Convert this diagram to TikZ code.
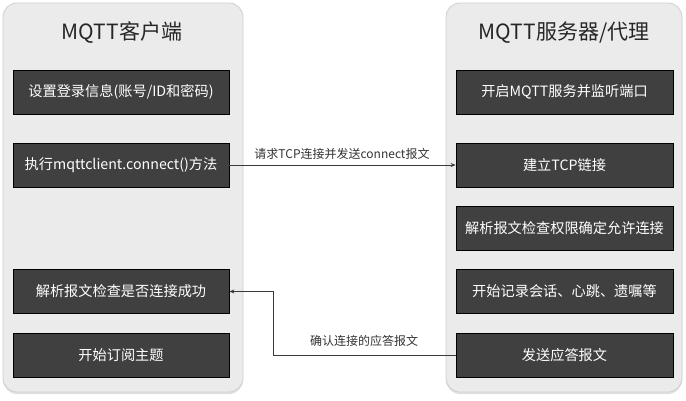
\documentclass[tikz,border=0pt]{standalone}
\usepackage{fontspec}
\setmainfont{Noto Sans CJK SC}
\usetikzlibrary{arrows.meta,shadows}
\definecolor{panelfill}{HTML}{EBEBEB}
\definecolor{panelline}{HTML}{CFCFCF}
\definecolor{boxfill}{HTML}{404040}
\definecolor{wire}{HTML}{3A3A3A}
\tikzset{
  panel/.style={draw=panelline, fill=panelfill, rounded corners=14pt, line width=0.8pt,
    drop shadow={shadow xshift=0pt, shadow yshift=-2pt, opacity=0.25}},
  title/.style={font=\fontsize{21}{24}\selectfont, text=black!85},
  stepbox/.style={draw=black, fill=boxfill, line width=0.8pt, text=white,
    minimum height=44pt, inner sep=0pt, font=\fontsize{14.2}{16}\selectfont},
  leftbox/.style={stepbox, minimum width=216pt},
  rightbox/.style={stepbox, minimum width=217pt},
  link/.style={draw=wire, line width=0.6pt, -{Stealth[length=5pt,width=4pt]}},
  linklabel/.style={font=\fontsize{12}{14}\selectfont, text=black!80, inner sep=1pt}
}
\begin{document}
\begin{tikzpicture}[x=1pt,y=-1pt]
  \useasboundingbox (0,0) rectangle (686,400);
  % two swimlane panels
  \path[panel] (3,3) rectangle (243,392);
  \path[panel] (446,3) rectangle (682,392);
  \node[title] (tl) at (122,33) {MQTT客户端};
  \node[title] (tr) at (564,33) {MQTT服务器/代理};
  % client side
  \node[leftbox] (l1) at (121,92) {设置登录信息(账号/ID和密码)};
  \node[leftbox] (l2) at (121,165) {执行mqttclient.connect()方法};
  \node[leftbox] (l3) at (121,291.5) {解析报文检查是否连接成功};
  \node[leftbox] (l4) at (121,355) {开始订阅主题};
  % broker side
  \node[rightbox] (r1) at (564.5,92) {开启MQTT服务并监听端口};
  \node[rightbox] (r2) at (564.5,165) {建立TCP链接};
  \node[rightbox] (r3) at (564.5,228.5) {解析报文检查权限确定允许连接};
  \node[rightbox] (r4) at (564.5,291.5) {开始记录会话、心跳、遗嘱等};
  \node[rightbox] (r5) at (564.5,355) {发送应答报文};
  % messages
  \draw[link] (l2.east) -- (r2.west);
  \node[linklabel] (m1) at (342,154) {请求TCP连接并发送connect报文};
  \coordinate (bend) at (273,355);
  \draw[link] (r5.west) -- (bend) |- (l3.east);
  \node[linklabel] (m2) at (364,341) {确认连接的应答报文};
\end{tikzpicture}
\end{document}
